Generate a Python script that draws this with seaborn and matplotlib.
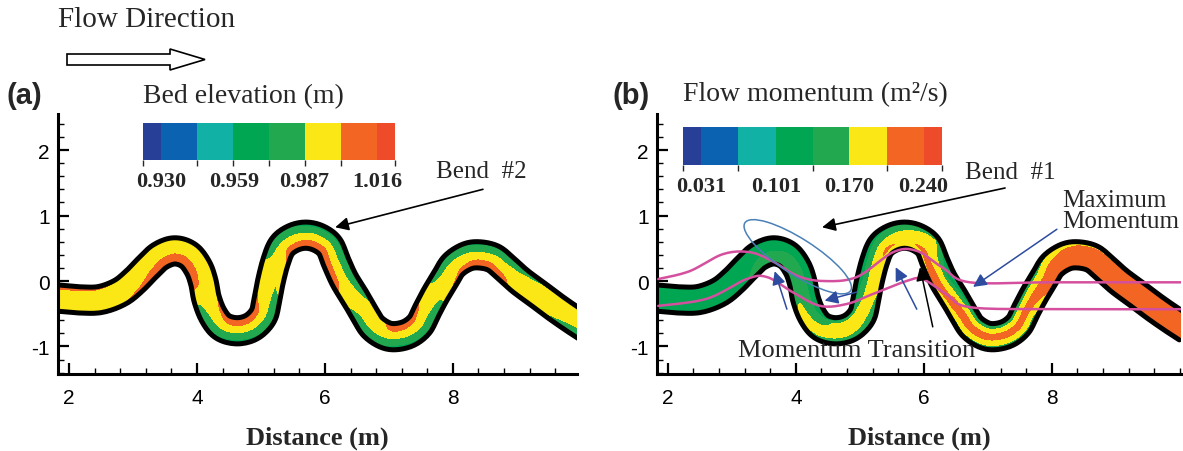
import numpy as np
import matplotlib
matplotlib.use("Agg")
import matplotlib.pyplot as plt
import seaborn as sns
from matplotlib import patches
from matplotlib.colors import ListedColormap, BoundaryNorm
from matplotlib.cm import ScalarMappable
from matplotlib.ticker import MultipleLocator

# ---------------------------------------------------------------- data
# channel centreline stations (m)
centre_x = [1.82, 2.20, 2.50, 2.80, 3.02, 3.22, 3.42, 3.65, 3.87, 4.02, 4.10, 4.15, 4.25, 4.40,
            4.63, 4.86, 5.03, 5.09, 5.15, 5.23, 5.33, 5.50, 5.70, 5.90, 6.07, 6.17, 6.30, 6.47,
            6.63, 6.75, 6.93, 7.10, 7.31, 7.48, 7.58, 7.72, 7.88, 8.01, 8.21, 8.40, 8.63, 8.82,
            9.05, 9.30, 9.60, 9.88, 10.10]
centre_y = [-0.26, -0.29, -0.28, -0.17, 0.00, 0.20, 0.38, 0.46, 0.39, 0.20, -0.02, -0.27, -0.52, -0.70,
            -0.76, -0.70, -0.53, -0.30, 0.00, 0.30, 0.53, 0.655, 0.70, 0.655, 0.53, 0.30, 0.02, -0.25,
            -0.52, -0.70, -0.82, -0.85, -0.80, -0.67, -0.48, -0.22, 0.04, 0.24, 0.37, 0.40, 0.35, 0.20,
            0.00, -0.18, -0.40, -0.59, -0.73]

# cross-sections (centreline station index) where the fields are given
section_idx = [0, 2, 4, 5, 7, 9, 10, 12, 14, 16, 18, 20, 22, 24, 26, 28, 31, 34, 36, 39, 41, 43, 46]

# values across each section: left bank, left-mid, centre, right-mid, right bank
bed_elev = [
    [1.010, 0.997, 0.995, 0.995, 1.002],
    [1.006, 0.996, 0.995, 0.995, 0.998],
    [1.000, 0.995, 0.995, 0.999, 1.008],
    [0.995, 0.995, 0.996, 1.004, 1.013],
    [0.994, 0.995, 0.997, 1.007, 1.017],
    [0.995, 0.995, 0.997, 1.006, 1.015],
    [0.997, 0.995, 0.996, 1.003, 1.010],
    [1.008, 0.999, 0.993, 0.978, 0.970],
    [1.016, 1.005, 0.992, 0.975, 0.968],
    [1.012, 1.003, 0.992, 0.977, 0.970],
    [0.998, 0.995, 0.991, 0.988, 0.996],
    [0.974, 0.980, 0.992, 1.002, 1.010],
    [0.968, 0.975, 0.993, 1.004, 1.015],
    [0.968, 0.975, 0.993, 1.004, 1.013],
    [0.968, 0.979, 0.994, 1.002, 1.008],
    [0.990, 0.994, 0.993, 0.983, 0.972],
    [1.013, 1.004, 0.992, 0.975, 0.968],
    [1.006, 1.000, 0.993, 0.977, 0.970],
    [0.976, 0.984, 0.994, 0.998, 1.004],
    [0.968, 0.976, 0.993, 1.004, 1.013],
    [0.970, 0.982, 0.994, 1.002, 1.008],
    [0.980, 0.993, 0.995, 0.996, 0.990],
    [0.995, 0.995, 0.994, 0.980, 0.970],
]

flow_momentum = [
    [0.130, 0.130, 0.130, 0.130, 0.130],
    [0.130, 0.130, 0.130, 0.130, 0.130],
    [0.130, 0.130, 0.130, 0.130, 0.130],
    [0.128, 0.130, 0.130, 0.135, 0.140],
    [0.120, 0.130, 0.135, 0.150, 0.165],
    [0.125, 0.130, 0.140, 0.160, 0.175],
    [0.120, 0.130, 0.140, 0.150, 0.160],
    [0.105, 0.130, 0.160, 0.185, 0.170],
    [0.090, 0.178, 0.192, 0.175, 0.125],
    [0.090, 0.180, 0.190, 0.160, 0.110],
    [0.105, 0.135, 0.178, 0.190, 0.180],
    [0.110, 0.140, 0.180, 0.210, 0.190],
    [0.130, 0.160, 0.190, 0.200, 0.190],
    [0.150, 0.180, 0.190, 0.210, 0.190],
    [0.050, 0.120, 0.190, 0.218, 0.195],
    [0.080, 0.170, 0.220, 0.200, 0.140],
    [0.100, 0.180, 0.220, 0.190, 0.130],
    [0.100, 0.180, 0.220, 0.190, 0.130],
    [0.130, 0.180, 0.210, 0.225, 0.225],
    [0.180, 0.220, 0.230, 0.230, 0.220],
    [0.190, 0.220, 0.230, 0.230, 0.220],
    [0.200, 0.230, 0.230, 0.220, 0.210],
    [0.220, 0.230, 0.230, 0.220, 0.200],
]

bed_levels = [0.9228, 0.930, 0.9443, 0.9587, 0.973, 0.9873, 1.0017, 1.016, 1.0232]
bed_ticks = [0.930, 0.959, 0.987, 1.016]
mom_levels = [0.0136, 0.031, 0.0658, 0.101, 0.1355, 0.170, 0.2052, 0.240, 0.2574]
mom_ticks = [0.031, 0.101, 0.170, 0.240]
level_colors = ["#283f97", "#0b62b0", "#11b1a5", "#00a651", "#22a94f",
                "#fbe716", "#f36523", "#ee4b2b"]

# momentum-maximum paths (magenta lines)
path_upper_x = [1.85, 2.34, 2.86, 3.28, 3.64, 4.02, 4.42, 4.95, 5.52, 5.89, 6.30, 6.72, 8.00, 10.1]
path_upper_y = [0.03, 0.15, 0.41, 0.44, 0.30, 0.08, 0.00, 0.06, 0.44, 0.46, 0.20, -0.02, -0.02, -0.02]
path_lower_x = [1.85, 2.61, 3.23, 3.55, 3.95, 4.38, 4.80, 5.20, 5.73, 5.98, 6.35, 6.72, 8.00, 10.1]
path_lower_y = [-0.38, -0.27, 0.03, 0.06, -0.17, -0.38, -0.35, -0.20, 0.00, 0.03, -0.20, -0.40, -0.43, -0.43]

W, H = 1183, 452


def fx(px):
    return px / W


def fy(py):
    return 1 - py / H


def catmull_rom(x, y, per=16):
    pts = np.column_stack([x, y]).astype(float)
    pts = np.vstack([pts[0], pts, pts[-1]])
    xs, ys, ts = [], [], []
    for i in range(len(pts) - 3):
        p0, p1, p2, p3 = pts[i], pts[i + 1], pts[i + 2], pts[i + 3]
        t = np.linspace(0, 1, per, endpoint=False)[:, None]
        c = 0.5 * ((2 * p1) + (-p0 + p2) * t + (2 * p0 - 5 * p1 + 4 * p2 - p3) * t ** 2
                   + (-p0 + 3 * p1 - 3 * p2 + p3) * t ** 3)
        xs.append(c[:, 0]); ys.append(c[:, 1]); ts.append(i + t[:, 0])
    xs.append([pts[-2, 0]]); ys.append([pts[-2, 1]]); ts.append([len(pts) - 3])
    return np.concatenate(xs), np.concatenate(ys), np.concatenate(ts)


def channel_mesh(values, half_width=0.2, m=41):
    xs, ys, t = catmull_rom(centre_x, centre_y, per=10)
    tx, ty = np.gradient(xs), np.gradient(ys)
    mag = np.hypot(tx, ty)
    nx, ny = -ty / mag, tx / mag
    nn = np.linspace(-1, 1, m)
    X = xs[:, None] + half_width * nn[None, :] * nx[:, None]
    Y = ys[:, None] + half_width * nn[None, :] * ny[:, None]
    vals = np.asarray(values)
    along = np.column_stack([np.interp(t, section_idx, vals[:, j]) for j in range(vals.shape[1])])
    cross = np.array([-1.0, -0.5, 0.0, 0.5, 1.0])
    Z = np.array([np.interp(nn, cross, row[::-1]) for row in along])
    return X, Y, Z


sns.set_theme(style="ticks")
plt.rcParams["font.family"] = ["Liberation Sans", "DejaVu Sans"]
plt.rcParams["axes.unicode_minus"] = False
SERIF = ["Liberation Serif", "DejaVu Serif"]

fig = plt.figure(figsize=(W / 100, H / 100), dpi=100)
fig.patch.set_facecolor("white")

# overlay in pixel units for the flow-direction arrow
ov = fig.add_axes([0, 0, 1, 1])
ov.set_xlim(0, W)
ov.set_ylim(H, 0)
ov.axis("off")
ov.patch.set_alpha(0)
ov.add_patch(patches.FancyArrow(67, 60.5, 138, 0, width=11, head_width=21, head_length=35,
                                length_includes_head=True, fc="white", ec="black", lw=1.2))
fig.text(fx(58), fy(20), "Flow Direction", family=SERIF, fontsize=21, va="center", ha="left")

cmap = ListedColormap(level_colors)


def draw_panel(rect, xlim, values, levels):
    ax = fig.add_axes(rect)
    ax.set_facecolor("white")
    X, Y, Z = channel_mesh(values)
    ax.contourf(X, Y, Z, levels=levels, colors=level_colors, zorder=2)
    for j in (0, -1):
        sns.lineplot(x=X[:, j], y=Y[:, j], sort=False, estimator=None, color="black",
                     lw=3.6, ax=ax, zorder=3)
    ax.set_xlim(*xlim)
    ax.set_ylim(-1.42, 2.55)
    ax.set_xticks([2, 4, 6, 8])
    ax.set_yticks([-1, 0, 1, 2])
    ax.xaxis.set_minor_locator(MultipleLocator(0.4))
    ax.yaxis.set_minor_locator(MultipleLocator(0.2))
    ax.tick_params(which="major", direction="in", length=8, width=1.6, labelsize=15,
                   colors="black")
    ax.tick_params(axis="x", which="major", pad=10)
    ax.tick_params(axis="y", which="major", pad=6)
    ax.tick_params(which="minor", direction="in", length=4, width=1.0, colors="black")
    for s in ("top", "right"):
        ax.spines[s].set_visible(False)
    for s in ("left", "bottom"):
        ax.spines[s].set_linewidth(2.2)
        ax.spines[s].set_color("black")
    ax.set_xlabel("Distance (m)", family=SERIF, fontsize=19, fontweight="bold")
    ax.xaxis.label.set_va("center")
    ax.xaxis.set_label_coords(0.5, -0.245)
    ax.set_ylabel("")
    return ax


def draw_colorbar(rect, levels, ticks):
    cax = fig.add_axes(rect)
    norm = BoundaryNorm(levels, cmap.N)
    cb = fig.colorbar(ScalarMappable(norm=norm, cmap=cmap), cax=cax, orientation="horizontal",
                      spacing="proportional", ticks=ticks)
    cb.outline.set_visible(False)
    cax.tick_params(length=0, pad=8)
    cax.set_xticklabels([f"{v:.3f}" for v in ticks], family=SERIF, fontsize=16, fontweight="bold")
    return cb


# ---------------------------------------------------------------- panel (a)
ax_a = draw_panel([fx(58), fy(375), (577 - 58) / W, (375 - 115) / H], (1.828, 9.94),
                  bed_elev, bed_levels)
draw_colorbar([fx(143), fy(161), (395 - 143) / W, 37 / H], bed_levels, bed_ticks)
fig.text(fx(7), fy(96), "(a)", fontsize=21, fontweight="bold", va="center", ha="left")
fig.text(fx(143), fy(97), "Bed elevation (m)", family=SERIF, fontsize=20, va="center", ha="left")
ax_a.text(8.44, 1.68, "Bend  #2", family=SERIF, fontsize=18, ha="center", va="center")
ax_a.annotate("", xy=(6.16, 0.82), xytext=(8.47, 1.40),
              arrowprops=dict(arrowstyle="-|>", color="black", lw=1.2, mutation_scale=20,
                              shrinkA=0, shrinkB=0), zorder=5)

# ---------------------------------------------------------------- panel (b)
ax_b = draw_panel([fx(657), fy(375), (1181 - 657) / W, (375 - 115) / H], (1.83, 10.02),
                  flow_momentum, mom_levels)
draw_colorbar([fx(683), fy(166), (942 - 683) / W, 38 / H], mom_levels, mom_ticks)
fig.text(fx(612), fy(96), "(b)", fontsize=21, fontweight="bold", va="center", ha="left")
fig.text(fx(683), fy(95), "Flow momentum (m²/s)", family=SERIF, fontsize=20, va="center", ha="left")

for px_, py_ in ((path_upper_x, path_upper_y), (path_lower_x, path_lower_y)):
    sx, sy, _ = catmull_rom(px_, py_, per=12)
    sns.lineplot(x=sx, y=sy, sort=False, estimator=None, color="#d4509f", lw=1.8, ax=ax_b, zorder=4)

ax_b.add_patch(patches.Ellipse((4.03, 0.37), width=1.95, height=0.55, angle=-32, fill=False,
                               ec="#4a80b6", lw=1.1, zorder=5))
ax_b.text(7.36, 1.67, "Bend  #1", family=SERIF, fontsize=18, ha="center", va="center")
ax_b.annotate("", xy=(4.41, 0.82), xytext=(7.27, 1.42),
              arrowprops=dict(arrowstyle="-|>", color="black", lw=1.2, mutation_scale=20,
                              shrinkA=0, shrinkB=0), zorder=6)
ax_b.text(8.17, 1.08, "Maximum\nMomentum", family=SERIF, fontsize=18, ha="left", va="center",
          linespacing=0.95, clip_on=False)
ax_b.annotate("", xy=(6.77, -0.09), xytext=(8.08, 0.79),
              arrowprops=dict(arrowstyle="-|>", color="#2d4c9f", lw=1.1, mutation_scale=20,
                              shrinkA=0, shrinkB=0), zorder=6)

blue_arrows = [((3.86, -0.43), (3.67, 0.15)),
               ((4.95, -0.17), (4.45, -0.30)),
               ((5.89, -0.43), (5.56, 0.21))]
for tail, tip in blue_arrows:
    ax_b.annotate("", xy=tip, xytext=tail,
                  arrowprops=dict(arrowstyle="-|>", color="#2d4c9f", lw=1.1, mutation_scale=20,
                                  shrinkA=0, shrinkB=0), zorder=6)
ax_b.annotate("", xy=(5.94, 0.21), xytext=(6.14, -0.70),
              arrowprops=dict(arrowstyle="-|>", color="black", lw=1.1, mutation_scale=20,
                              shrinkA=0, shrinkB=0), zorder=6)
ax_b.text(4.95, -1.06, "Momentum Transition", family=SERIF, fontsize=19, ha="center",
          va="center", zorder=7)

fig.savefig("out.png", dpi=100)
